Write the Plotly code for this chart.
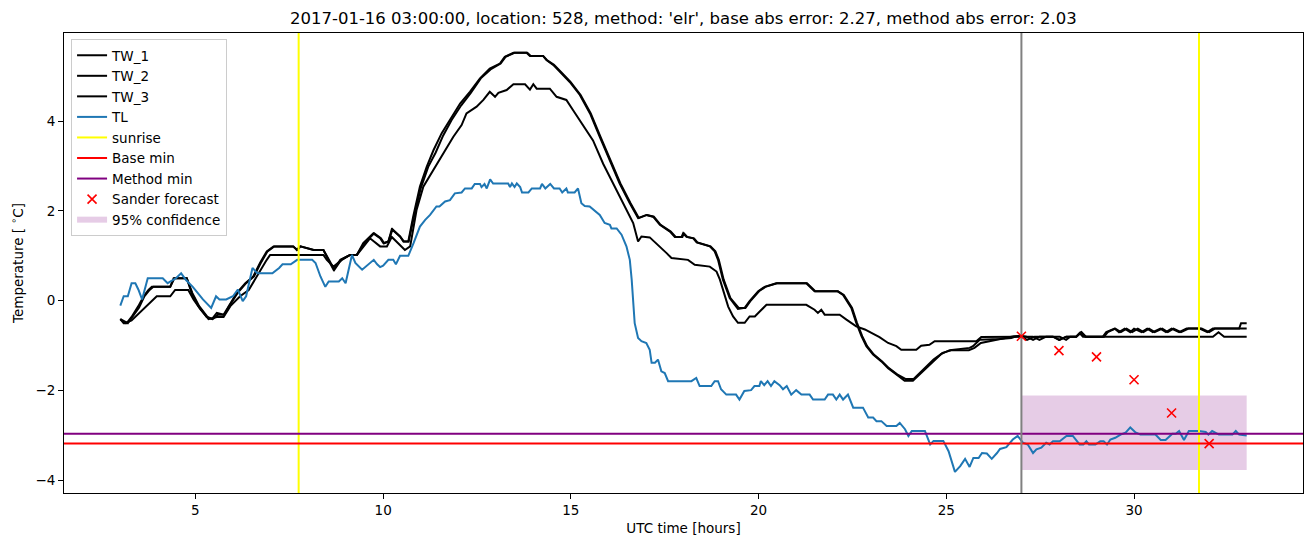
import plotly.graph_objects as go

# ---------------- data ----------------
tw1_hours = [3.0, 3.09, 3.17, 3.3, 3.48, 3.62, 3.75, 3.84, 4.33, 4.42, 4.77, 4.9, 5.08, 5.3, 5.44, 5.57, 5.75, 5.88,
             6.1, 6.33, 6.54, 6.72, 6.9, 7.08, 7.61, 7.7, 7.79, 8.15, 8.41, 8.54, 8.68, 8.86, 9.12, 9.3, 9.47, 9.74,
             9.92, 10.01, 10.14, 10.23, 10.45, 10.54, 10.67, 10.8, 10.98, 11.16, 11.34, 11.56, 11.78, 12.05, 12.31,
             12.58, 12.84, 13.11, 13.24, 13.47, 13.82, 13.91, 14.26, 14.35, 14.53, 14.71, 14.97, 15.24, 15.51, 15.77,
             16.04, 16.3, 16.57, 16.79, 17.01, 17.19, 17.37, 17.64, 17.77, 17.95, 17.99, 18.08, 18.26, 18.35, 18.7,
             18.83, 18.92, 19.05, 19.23, 19.45, 19.63, 19.76, 19.99, 20.16, 20.47, 21.27, 21.49, 22.11, 22.25, 22.47,
             22.6, 22.74, 22.87, 23.05, 23.27, 23.45, 23.67, 23.89, 24.11, 24.29, 24.47, 24.64, 24.87, 25.09, 25.62,
             25.71, 25.89, 26.42, 26.73, 26.86, 27.0, 27.13, 27.31, 27.48, 27.84, 28.02, 28.19, 28.46, 28.59, 28.7,
             29.17, 29.26, 29.48, 29.6, 29.75, 29.9, 30.0, 30.2, 30.35, 30.5, 30.7, 30.85, 31.0, 31.2, 31.4, 31.75,
             31.95, 32.1, 32.8, 32.85, 33.0]
tw1_values = [-0.41, -0.5, -0.5, -0.36, -0.12, 0.10, 0.24, 0.31, 0.31, 0.50, 0.50, 0.17, -0.12, -0.36, -0.41, -0.27,
              -0.31, -0.12, 0.17, 0.39, 0.54, 0.84, 1.10, 1.21, 1.21, 1.13, 1.21, 1.13, 1.13, 0.91, 0.69, 0.91, 1.02,
              1.02, 1.28, 1.50, 1.39, 1.28, 1.32, 1.59, 1.43, 1.32, 1.32, 1.87, 2.54, 2.98, 3.35, 3.73, 4.02, 4.39,
              4.65, 4.95, 5.17, 5.28, 5.43, 5.52, 5.52, 5.45, 5.45, 5.36, 5.25, 5.10, 4.87, 4.58, 4.17, 3.65, 3.13,
              2.61, 2.17, 1.84, 1.91, 1.87, 1.69, 1.54, 1.42, 1.42, 1.50, 1.42, 1.39, 1.30, 1.21, 1.10, 0.91, 0.47,
              0.06, -0.18, -0.16, -0.01, 0.21, 0.31, 0.39, 0.39, 0.21, 0.21, 0.13, -0.16, -0.49, -0.79, -1.01, -1.20,
              -1.35, -1.50, -1.64, -1.78, -1.78, -1.64, -1.50, -1.35, -1.18, -1.10, -1.05, -1.01, -0.87, -0.85, -0.83,
              -0.79, -0.78, -0.80, -0.87, -0.80, -0.80, -0.87, -0.80, -0.80, -0.70, -0.80, -0.80, -0.70, -0.62, -0.70,
              -0.62, -0.70, -0.62, -0.70, -0.62, -0.70, -0.62, -0.70, -0.62, -0.70, -0.62, -0.62, -0.70, -0.62, -0.62,
              -0.50, -0.50]

tw2_hours = [3.0, 3.1, 3.2, 3.32, 3.5, 3.64, 3.78, 3.88, 4.33, 4.44, 4.77, 4.92, 5.1, 5.32, 5.46, 5.6, 5.77, 5.9,
             6.12, 6.35, 6.56, 6.74, 6.92, 7.1, 7.6, 7.72, 7.8, 8.15, 8.41, 8.56, 8.7, 8.88, 9.12, 9.3, 9.5, 9.76,
             9.94, 10.03, 10.14, 10.25, 10.45, 10.55, 10.68, 10.82, 11.0, 11.2, 11.4, 11.6, 11.82, 12.08, 12.33,
             12.6, 12.86, 13.13, 13.26, 13.5, 13.84, 13.93, 14.26, 14.36, 14.55, 14.73, 14.99, 15.26, 15.53, 15.79,
             16.06, 16.32, 16.59, 16.81, 17.03, 17.21, 17.39, 17.66, 17.79, 17.97, 18.01, 18.1, 18.28, 18.37, 18.72,
             18.85, 18.94, 19.07, 19.25, 19.47, 19.65, 19.78, 20.01, 20.18, 20.49, 21.29, 21.51, 22.11, 22.27, 22.49,
             22.62, 22.76, 22.89, 23.07, 23.29, 23.47, 23.69, 23.91, 24.13, 24.31, 24.49, 24.66, 24.9, 25.15, 25.6,
             25.75, 25.92, 26.3, 26.6, 26.8, 27.0, 27.15, 27.35, 27.5, 27.84, 28.0, 28.2, 28.46, 28.6, 28.72, 29.2,
             29.3, 29.5, 29.65, 29.8, 29.95, 30.1, 30.25, 30.4, 30.55, 30.75, 30.9, 31.05, 31.25, 31.45, 31.8, 32.0,
             32.15, 33.0]
tw2_values = [-0.41, -0.45, -0.5, -0.36, -0.15, 0.10, 0.24, 0.31, 0.31, 0.50, 0.50, 0.17, -0.12, -0.36, -0.41, -0.31,
              -0.31, -0.12, 0.17, 0.39, 0.54, 0.84, 1.10, 1.21, 1.21, 1.13, 1.21, 1.13, 1.13, 0.91, 0.69, 0.91, 1.02,
              1.02, 1.28, 1.50, 1.39, 1.28, 1.32, 1.59, 1.43, 1.32, 1.32, 1.87, 2.50, 2.98, 3.30, 3.68, 4.02, 4.35,
              4.62, 4.95, 5.15, 5.28, 5.43, 5.52, 5.52, 5.45, 5.45, 5.36, 5.25, 5.10, 4.87, 4.58, 4.17, 3.65, 3.13,
              2.61, 2.17, 1.84, 1.91, 1.87, 1.69, 1.54, 1.42, 1.42, 1.50, 1.42, 1.39, 1.30, 1.21, 1.10, 0.91, 0.47,
              0.06, -0.16, -0.16, -0.01, 0.21, 0.31, 0.39, 0.39, 0.21, 0.21, 0.13, -0.16, -0.49, -0.79, -1.01, -1.20,
              -1.35, -1.50, -1.64, -1.74, -1.74, -1.60, -1.46, -1.31, -1.16, -1.10, -1.10, -1.05, -0.94, -0.87, -0.83,
              -0.79, -0.80, -0.87, -0.80, -0.80, -0.80, -0.87, -0.80, -0.80, -0.70, -0.80, -0.80, -0.70, -0.62, -0.70,
              -0.62, -0.70, -0.62, -0.70, -0.62, -0.70, -0.62, -0.70, -0.62, -0.70, -0.62, -0.62, -0.70, -0.62, -0.62]

tw3_hours = [3.0, 3.13, 3.3, 3.53, 3.75, 3.97, 4.33, 4.46, 4.81, 4.95, 5.13, 5.35, 5.57, 5.75, 5.93, 6.19, 6.42,
             6.63, 6.9, 6.99, 8.41, 8.5, 8.68, 8.9, 9.12, 9.3, 9.47, 9.65, 9.92, 10.1, 10.23, 10.41, 10.58, 10.72,
             10.89, 11.07, 11.34, 11.6, 11.87, 12.09, 12.22, 12.49, 12.67, 12.84, 12.98, 13.07, 13.29, 13.47, 13.78,
             13.91, 14.0, 14.09, 14.44, 14.62, 14.88, 15.06, 15.33, 15.59, 15.86, 16.13, 16.39, 16.66, 16.79, 16.88,
             17.1, 17.37, 17.55, 17.68, 18.12, 18.3, 18.7, 18.88, 18.97, 19.19, 19.32, 19.45, 19.63, 19.76, 19.9,
             20.03, 20.21, 21.27, 21.49, 21.58, 21.67, 21.76, 22.16, 22.34, 22.6, 22.83, 22.96, 23.22, 23.45, 23.67,
             23.8, 24.2, 24.33, 24.55, 24.69, 25.8, 25.93, 26.95, 27.13, 27.31, 27.48, 27.66, 28.02, 28.19, 28.3,
             28.46, 28.55, 28.64, 32.1, 32.25, 32.4, 33.0]
tw3_values = [-0.41, -0.5, -0.44, -0.25, -0.07, 0.10, 0.10, 0.24, 0.24, 0.03, -0.19, -0.41, -0.36, -0.36, -0.12,
              0.10, 0.24, 0.54, 0.91, 1.02, 1.02, 0.91, 0.76, 0.91, 1.02, 1.02, 1.21, 1.39, 1.21, 1.21, 1.42, 1.28,
              1.13, 1.21, 2.02, 2.54, 2.91, 3.28, 3.65, 3.91, 4.17, 4.32, 4.47, 4.65, 4.54, 4.63, 4.69, 4.82, 4.82,
              4.70, 4.82, 4.72, 4.72, 4.54, 4.47, 4.24, 3.91, 3.57, 3.05, 2.61, 2.17, 1.73, 1.32, 1.43, 1.41, 1.21,
              1.06, 0.95, 0.91, 0.80, 0.76, 0.65, 0.47, -0.13, -0.35, -0.49, -0.49, -0.35, -0.35, -0.24, -0.09, -0.09,
              -0.20, -0.27, -0.20, -0.31, -0.31, -0.42, -0.57, -0.64, -0.70, -0.81, -0.94, -1.01, -1.09, -1.09, -1.00,
              -0.98, -0.90, -0.90, -0.81, -0.81, -0.80, -0.80, -0.87, -0.80, -0.80, -0.87, -0.80, -0.80, -0.72, -0.80,
              -0.80, -0.70, -0.80, -0.80]

tl_hours = [3.0, 3.09, 3.2, 3.3, 3.4, 3.48, 3.58, 3.73, 4.13, 4.26, 4.48, 4.62, 4.75, 4.93, 5.2, 5.42, 5.55, 5.64,
            5.82, 6.0, 6.13, 6.26, 6.35, 6.52, 6.65, 7.05, 7.23, 7.32, 7.54, 7.71, 8.11, 8.2, 8.33, 8.46, 8.55, 8.82,
            8.91, 9.0, 9.17, 9.26, 9.44, 9.62, 9.75, 9.84, 9.92, 10.0, 10.14, 10.27, 10.34, 10.45, 10.67, 10.81,
            10.98, 11.12, 11.25, 11.42, 11.5, 11.65, 11.78, 11.91, 12.09, 12.18, 12.36, 12.44, 12.58, 12.62, 12.7,
            12.76, 12.85, 12.93, 13.33, 13.38, 13.43, 13.5, 13.56, 13.65, 13.7, 13.87, 13.96, 14.18, 14.23, 14.32,
            14.45, 14.55, 14.7, 14.77, 14.88, 14.92, 15.1, 15.19, 15.28, 15.37, 15.5, 15.77, 15.9, 16.04, 16.08,
            16.22, 16.35, 16.48, 16.57, 16.62, 16.66, 16.7, 16.79, 16.88, 17.01, 17.1, 17.15, 17.24, 17.32, 17.41,
            17.5, 17.59, 18.21, 18.34, 18.43, 18.74, 18.83, 18.92, 19.0, 19.14, 19.4, 19.49, 19.62, 19.8, 19.89,
            20.02, 20.06, 20.15, 20.24, 20.33, 20.42, 20.56, 20.65, 20.75, 20.87, 21.0, 21.14, 21.36, 21.45, 21.76,
            21.85, 21.98, 22.07, 22.16, 22.25, 22.38, 22.52, 22.78, 22.92, 23.05, 23.14, 23.27, 23.41, 23.67, 23.76,
            23.9, 23.99, 24.08, 24.43, 24.57, 24.66, 24.92, 25.06, 25.23, 25.37, 25.5, 25.62, 25.72, 25.86, 25.95,
            26.08, 26.21, 26.35, 26.43, 26.6, 26.77, 26.9, 27.04, 27.17, 27.31, 27.4, 27.53, 27.66, 27.75, 27.84,
            28.02, 28.2, 28.37, 28.55, 28.65, 28.73, 28.8, 28.97, 29.1, 29.19, 29.28, 29.37, 29.5, 29.64, 29.77,
            29.9, 30.04, 30.17, 30.57, 30.71, 30.84, 31.02, 31.11, 31.2, 31.33, 31.46, 31.73, 31.91, 31.98, 32.08,
            32.26, 32.62, 32.71, 32.8, 33.0]
tl_values = [-0.11, 0.10, 0.10, 0.39, 0.39, 0.25, 0.03, 0.50, 0.50, 0.39, 0.50, 0.61, 0.46, 0.31, 0.03, -0.16, 0.10,
             0.03, 0.03, 0.10, 0.25, -0.01, 0.10, 0.73, 0.61, 0.61, 0.73, 0.81, 0.81, 0.91, 0.91, 0.84, 0.54, 0.31,
             0.43, 0.43, 0.50, 0.39, 1.02, 0.84, 0.69, 0.81, 0.91, 0.81, 0.75, 0.78, 0.91, 0.91, 0.81, 1.00, 1.00,
             1.28, 1.65, 1.80, 1.91, 2.10, 2.10, 2.21, 2.24, 2.39, 2.41, 2.50, 2.50, 2.60, 2.60, 2.53, 2.60, 2.50,
             2.70, 2.61, 2.61, 2.53, 2.61, 2.53, 2.61, 2.53, 2.41, 2.41, 2.50, 2.50, 2.60, 2.50, 2.60, 2.50, 2.50,
             2.41, 2.50, 2.41, 2.41, 2.50, 2.17, 2.11, 2.10, 1.91, 1.73, 1.69, 1.61, 1.61, 1.47, 1.21, 0.91, 0.47,
             -0.13, -0.50, -0.83, -0.90, -0.94, -1.09, -1.38, -1.38, -1.31, -1.57, -1.61, -1.79, -1.79, -1.72, -1.90,
             -1.90, -1.79, -1.79, -1.97, -2.09, -2.09, -2.20, -2.01, -1.99, -1.90, -1.90, -1.79, -1.88, -1.79, -1.90,
             -1.79, -1.88, -1.97, -1.90, -2.09, -1.99, -2.09, -2.09, -2.20, -2.20, -2.09, -2.09, -2.20, -2.09, -2.20,
             -2.09, -2.38, -2.38, -2.60, -2.60, -2.68, -2.68, -2.79, -2.79, -2.72, -2.86, -3.01, -2.90, -2.90, -3.20,
             -3.12, -3.12, -3.35, -3.81, -3.68, -3.52, -3.70, -3.50, -3.50, -3.39, -3.40, -3.52, -3.39, -3.30, -3.26,
             -3.09, -3.01, -3.16, -3.20, -3.39, -3.31, -3.27, -3.16, -3.20, -3.13, -3.13, -3.01, -3.01, -3.20, -3.20,
             -3.13, -3.20, -3.20, -3.13, -3.13, -3.20, -3.09, -3.05, -2.98, -2.94, -2.82, -2.93, -2.98, -2.98, -3.10,
             -3.10, -2.96, -2.96, -2.90, -3.10, -2.90, -2.90, -2.92, -2.98, -2.90, -2.98, -2.98, -2.90, -2.98, -3.00]

sunrise_hours = [7.75, 31.73]
forecast_time = 27.0
base_min = -3.18
method_min = -2.96
sander_hours = [27, 28, 29, 30, 31, 32]
sander_values = [-0.79, -1.11, -1.25, -1.76, -2.50, -3.18]
conf_hours = [27.0, 33.0]
conf_upper = -2.11
conf_lower = -3.77

title_text = "2017-01-16 03:00:00, location: 528, method: 'elr', base abs error: 2.27, method abs error: 2.03"

# axis limits (matplotlib-style 5% margins)
x_lim = [1.5, 34.5]
y_lim = [-4.28, 5.96]

FONT = "DejaVu Sans"
fig = go.Figure()

# 95% confidence band (drawn first, below the lines)
fig.add_trace(go.Scatter(
    x=[conf_hours[0], conf_hours[1], conf_hours[1], conf_hours[0], conf_hours[0]],
    y=[conf_upper, conf_upper, conf_lower, conf_lower, conf_upper],
    fill="toself", fillcolor="rgba(128,0,128,0.2)", mode="none",
    name="95% confidence", legendrank=9, hoverinfo="skip"))

for name, hx, hy, rank in [("TW_1", tw1_hours, tw1_values, 1),
                           ("TW_2", tw2_hours, tw2_values, 2),
                           ("TW_3", tw3_hours, tw3_values, 3)]:
    fig.add_trace(go.Scatter(x=hx, y=hy, mode="lines", name=name, legendrank=rank,
                             line=dict(color="black", width=2)))

fig.add_trace(go.Scatter(x=tl_hours, y=tl_values, mode="lines", name="TL", legendrank=4,
                         line=dict(color="#1f77b4", width=2)))

# sunrise vertical lines
sx, sy = [], []
for h in sunrise_hours:
    sx += [h, h, None]
    sy += [y_lim[0], y_lim[1], None]
fig.add_trace(go.Scatter(x=sx, y=sy, mode="lines", name="sunrise", legendrank=5,
                         line=dict(color="yellow", width=2)))

fig.add_trace(go.Scatter(x=x_lim, y=[base_min, base_min], mode="lines", name="Base min", legendrank=6,
                         line=dict(color="red", width=2)))
fig.add_trace(go.Scatter(x=x_lim, y=[method_min, method_min], mode="lines", name="Method min", legendrank=7,
                         line=dict(color="purple", width=2)))

# forecast time marker line
fig.add_trace(go.Scatter(x=[forecast_time, forecast_time], y=y_lim, mode="lines", showlegend=False,
                         line=dict(color="grey", width=2)))

fig.add_trace(go.Scatter(x=sander_hours, y=sander_values, mode="markers", name="Sander forecast", legendrank=8,
                         marker=dict(symbol="x-thin", size=9, color="red", line=dict(color="red", width=1.6))))

axis_common = dict(showline=True, mirror=True, linecolor="black", linewidth=1, ticks="outside", ticklen=5,
                   tickcolor="black", showgrid=False, zeroline=False,
                   tickfont=dict(family=FONT, size=13.5, color="black"))

fig.update_layout(
    width=1313, height=547,
    margin=dict(l=64, r=10, t=33, b=54),
    paper_bgcolor="white", plot_bgcolor="white",
    font=dict(family=FONT, size=13.5, color="black"),
    title=dict(text=title_text, x=0.5205, xanchor="center", y=1 - 18 / 547, yanchor="middle", yref="container",
               font=dict(family=FONT, size=16.5, color="black")),
    xaxis=dict(range=x_lim, tickvals=[5, 10, 15, 20, 25, 30],
               title=dict(text="UTC time [hours]", font=dict(family=FONT, size=13.5), standoff=6), **axis_common),
    yaxis=dict(range=y_lim, tickvals=[-4, -2, 0, 2, 4],
               title=dict(text="Temperature [ <sup>∘</sup>C]", font=dict(family=FONT, size=13.5), standoff=8),
               **axis_common),
    legend=dict(x=0.0057, y=0.987, xanchor="left", yanchor="top", bgcolor="rgba(255,255,255,0.8)",
                bordercolor="#cccccc", borderwidth=1, font=dict(family=FONT, size=13.5, color="black")),
    showlegend=True,
)

fig.write_html("out.html")
